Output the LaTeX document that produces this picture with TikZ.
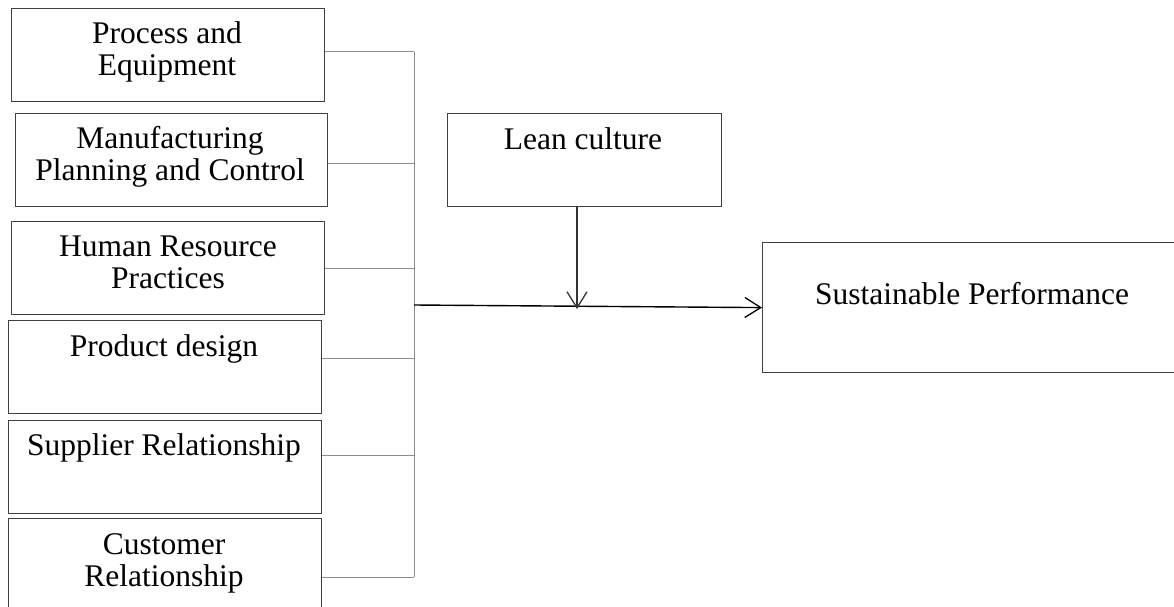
\documentclass[tikz,border=0pt]{standalone}
\usepackage{fontspec}
\setmainfont{Liberation Serif}
\usetikzlibrary{arrows.meta}
\begin{document}
\begin{tikzpicture}[x=1pt,y=-1pt,
  box/.style={draw=black!75, line width=1.2pt, rectangle, anchor=north west, inner sep=0pt, minimum height=93pt},
  txt/.style={font=\fontsize{31.5}{32}\selectfont, align=center, inner sep=0pt},
  branch/.style={draw=black!45, line width=1pt},
  arr/.style={line width=1.4pt, -{Straight Barb[length=16pt,width=20pt,line width=1.3pt]}}]
\useasboundingbox (0,0) rectangle (1174,607);
\clip (0,0) rectangle (1174,607);
% boxes
\node[box, minimum width=313pt] (b1) at (11,8) {};
\node[box, minimum width=312pt] (b2) at (15,113) {};
\node[box, minimum width=313pt] (b3) at (11,221) {};
\node[box, minimum width=313pt] (b4) at (8,320) {};
\node[box, minimum width=313pt] (b5) at (8,420) {};
\node[box, minimum width=313pt, minimum height=110pt] (b6) at (8,518) {};
\node[box, minimum width=274pt] (lc) at (447,113) {};
\node[box, minimum width=430pt, minimum height=130pt] (sp) at (762,242) {};
% texts
\node[txt] (t1) at (167,52) {Process and\\Equipment};
\node[txt] (t2) at (170,157) {Manufacturing\\Planning and Control};
\node[txt] (t3) at (168,262) {Human Resource\\Practices};
\node[txt, anchor=base] (t4) at (164,356) {Product design};
\node[txt, anchor=base] (t5) at (164,455) {Supplier Relationship};
\node[txt] (t6) at (164,563) {Customer\\Relationship};
\node[txt, anchor=base] (tl) at (583,149) {Lean culture};
\node[txt, anchor=base] (ts) at (972,304) {Sustainable Performance};
% bus
\coordinate (j1) at (414,52);
\coordinate (j2) at (414,163);
\coordinate (j3) at (414,268);
\coordinate (j4) at (414,358);
\coordinate (j5) at (414,455);
\coordinate (j6) at (414,577);
\draw[branch] (j1 -| b1.east) -- (j1);
\draw[branch] (j2 -| b2.east) -- (j2);
\draw[branch] (j3 -| b3.east) -- (j3);
\draw[branch] (j4 -| b4.east) -- (j4);
\draw[branch] (j5 -| b5.east) -- (j5);
\draw[branch] (j6 -| b6.east) -- (j6);
\draw[branch] (j1) -- (j6);
% arrows
\coordinate (m) at (414,305);
\draw[arr] (m) -- (sp.west);
\coordinate (t) at (577,309);
\draw[arr, draw=black!80] (t |- lc.south) -- (t);
\end{tikzpicture}
\end{document}
